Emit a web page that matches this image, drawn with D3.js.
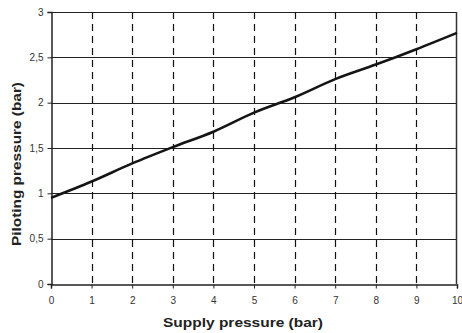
<!DOCTYPE html>
<html>
<head>
<meta charset="utf-8">
<script src="https://cdn.jsdelivr.net/npm/d3@7"></script>
<style>
  html, body { margin: 0; padding: 0; background: #fff; }
  svg { display: block; }
  text { font-family: "Liberation Sans", Arial, sans-serif; }
</style>
</head>
<body>
<svg id="chart" width="462" height="333"></svg>
<script>
// Supply pressure (bar) vs. piloting pressure (bar)
const supplyPressure = [0, 1, 2, 3, 4, 5, 6, 7, 8, 9, 10];
const pilotingPressure = [0.95, 1.13, 1.33, 1.51, 1.68, 1.89, 2.06, 2.26, 2.42, 2.59, 2.77];
const xTicks = [0, 1, 2, 3, 4, 5, 6, 7, 8, 9, 10];
const yTicks = [0, 0.5, 1, 1.5, 2, 2.5, 3];
const xTitle = "Supply pressure (bar)";
const yTitle = "Piloting pressure (bar)";

const svg = d3.select("#chart");
const margin = { left: 51, right: 5, top: 12, bottom: 49 };
const W = 462, H = 333;

const x = d3.scaleLinear().domain([0, 10]).range([margin.left, W - margin.right]);
const y = d3.scaleLinear().domain([0, 3]).range([H - margin.bottom, margin.top]);

const fmt = v => String(v).replace(".", ",");

// horizontal grid lines
svg.append("g").selectAll("line").data(yTicks.filter(v => v > 0)).join("line")
  .attr("x1", x(0)).attr("x2", x(10))
  .attr("y1", d => Math.round(y(d)) + 0.5).attr("y2", d => Math.round(y(d)) + 0.5)
  .attr("stroke", "#222").attr("stroke-width", 1.2);

// vertical dashed grid lines
svg.append("g").selectAll("line").data(xTicks.filter(v => v > 0 && v < 10)).join("line")
  .attr("x1", d => Math.round(x(d)) + 0.5).attr("x2", d => Math.round(x(d)) + 0.5)
  .attr("y1", y(3)).attr("y2", y(0))
  .attr("stroke", "#111").attr("stroke-width", 1.2)
  .attr("stroke-dasharray", "7,5");

// right frame edge
svg.append("line")
  .attr("x1", Math.round(x(10)) - 0.5).attr("x2", Math.round(x(10)) - 0.5)
  .attr("y1", y(3)).attr("y2", y(0))
  .attr("stroke", "#333").attr("stroke-width", 1.5);

// axes
const xAxis = svg.append("g")
  .attr("transform", `translate(0,${Math.round(y(0)) + 0.5})`)
  .call(d3.axisBottom(x).tickValues(xTicks).tickFormat(fmt).tickSize(4).tickPadding(8));
const yAxis = svg.append("g")
  .attr("transform", `translate(${Math.round(x(0)) + 0.5},0)`)
  .call(d3.axisLeft(y).tickValues(yTicks).tickFormat(fmt).tickSize(4).tickPadding(4));

[xAxis, yAxis].forEach(g => {
  g.select(".domain").attr("stroke", "#222").attr("stroke-width", 1.5);
  g.selectAll(".tick line").attr("stroke", "#222").attr("stroke-width", 1);
  g.selectAll(".tick text").attr("fill", "#333").style("font-size", "10px")
    .style("font-family", "'Liberation Sans', Arial, sans-serif");
});

// data line
const line = d3.line()
  .x((d, i) => x(supplyPressure[i]))
  .y(d => y(d))
  .curve(d3.curveMonotoneX);
svg.append("path")
  .datum(pilotingPressure)
  .attr("d", line)
  .attr("fill", "none")
  .attr("stroke", "#151515")
  .attr("stroke-width", 2.6)
  .attr("stroke-linejoin", "round");

// axis titles
svg.append("text")
  .attr("x", 243).attr("y", 327)
  .attr("text-anchor", "middle")
  .attr("font-weight", "bold").attr("font-size", "12.5px").attr("fill", "#222")
  .attr("textLength", 160).attr("lengthAdjust", "spacingAndGlyphs")
  .text(xTitle);
svg.append("text")
  .attr("transform", "translate(21,164) rotate(-90)")
  .attr("text-anchor", "middle")
  .attr("font-weight", "bold").attr("font-size", "13px").attr("fill", "#222")
  .attr("textLength", 164).attr("lengthAdjust", "spacingAndGlyphs")
  .text(yTitle);
</script>
</body>
</html>
